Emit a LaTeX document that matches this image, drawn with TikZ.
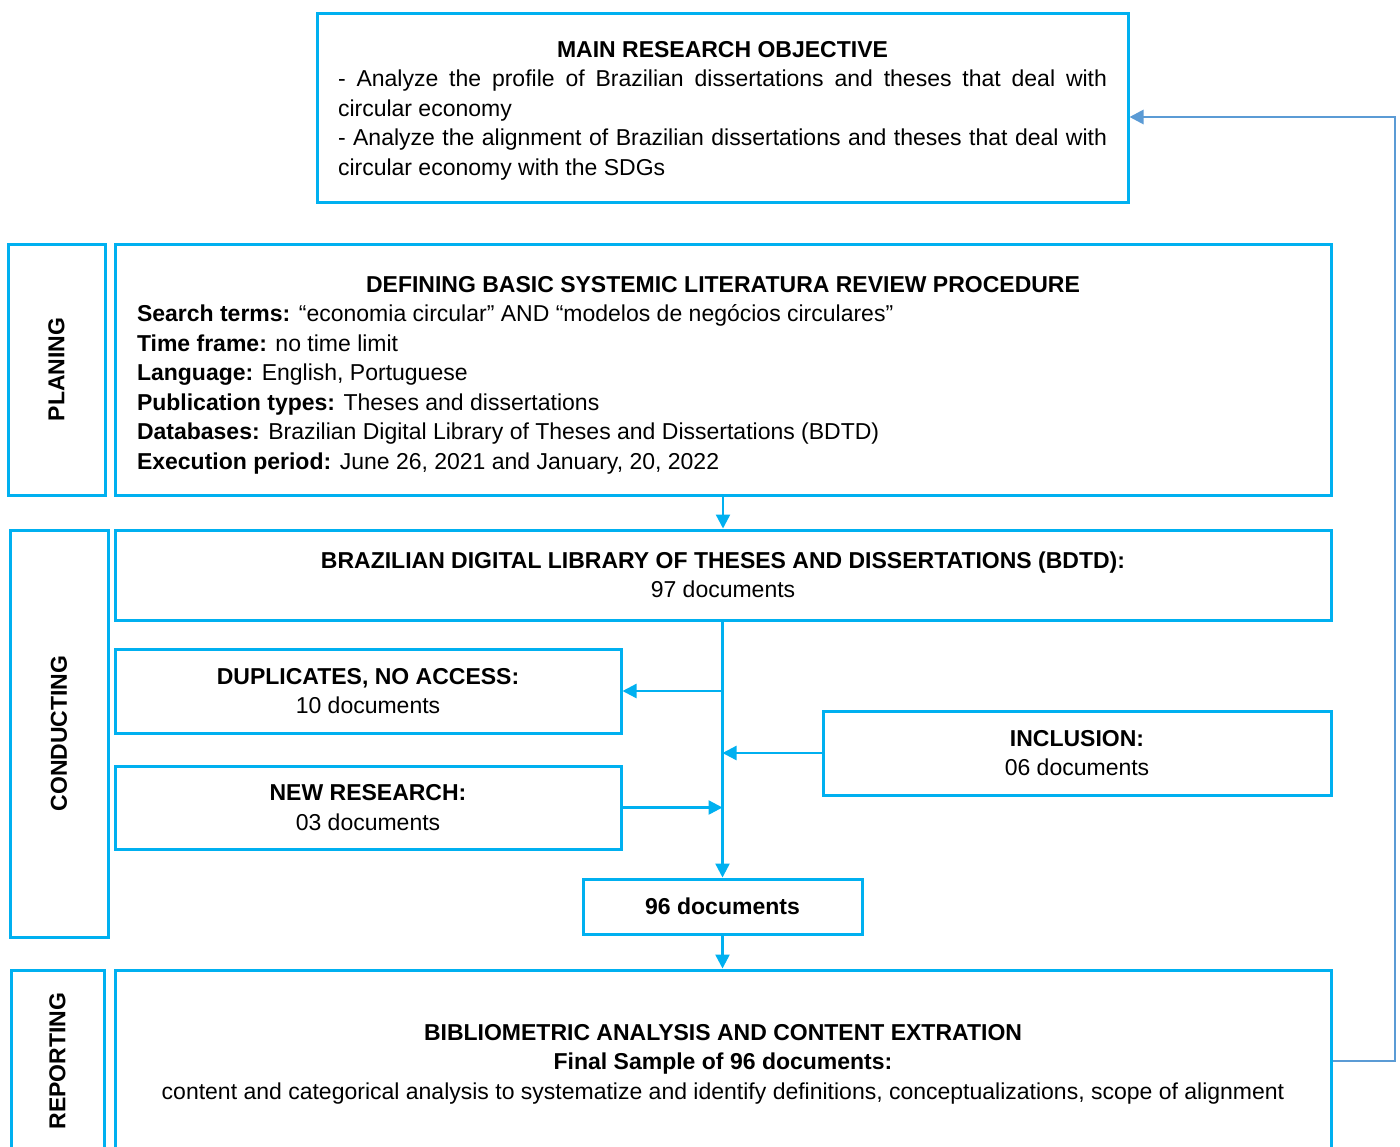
\documentclass[tikz,border=0pt]{standalone}
\usepackage{fontspec}
\setmainfont{Liberation Sans}
\usetikzlibrary{arrows.meta}
\definecolor{boxblue}{HTML}{00B0F0}
\definecolor{fbblue}{HTML}{5B9BD5}
\begin{document}
\begin{tikzpicture}[x=0.5pt,y=-0.5pt,
  box/.style={draw=boxblue,line width=1.5pt,rectangle,inner sep=0pt,align=center,
    font=\fontsize{11.5}{14.75}\selectfont},
  txt/.style={inner sep=0pt,align=center,font=\fontsize{11.5}{14.75}\selectfont},
  side/.style={font=\fontsize{11.5}{14.75}\selectfont\bfseries,rotate=90,inner sep=0pt},
  conn/.style={draw=boxblue,line width=1.2pt,-{Triangle[length=7pt,width=7pt]},color=boxblue},
  fb/.style={draw=fbblue,line width=1.4pt,-{Triangle[length=7pt,width=7pt]},color=fbblue}]
\useasboundingbox (0,0) rectangle (1400,1146);
\fill[white] (0,0) rectangle (1400,1146);

% top objective box
\node[box,minimum width=405.5pt,minimum height=94.5pt] (top) at (722.5,107.5) {};
\node[txt] (toptxt) at (722.5,110.5) {%
  \textbf{MAIN RESEARCH OBJECTIVE}\\
  \makebox[384.5pt][s]{- Analyze the profile of Brazilian dissertations and theses that deal with}\\
  \makebox[384.5pt][l]{circular economy}\\
  \makebox[384.5pt][s]{- Analyze the alignment of Brazilian dissertations and theses that deal with}\\
  \makebox[384.5pt][l]{circular economy with the SDGs}};

% planning
\node[box,minimum width=48.5pt,minimum height=125.5pt] (plan) at (56.5,369.5) {};
\node[side] (planlbl) at (plan) {PLANING};
\node[box,minimum width=608pt,minimum height=125.5pt] (def) at (723,369.5) {};
\node[txt] (deftxt) at (723,375) {%
  \textbf{DEFINING BASIC SYSTEMIC LITERATURA REVIEW PROCEDURE}\\
  \makebox[586pt][l]{\textbf{Search terms:} “economia circular” AND “modelos de negócios circulares”}\\
  \makebox[586pt][l]{\textbf{Time frame:} no time limit}\\
  \makebox[586pt][l]{\textbf{Language:} English, Portuguese}\\
  \makebox[586pt][l]{\textbf{Publication types:} Theses and dissertations}\\
  \makebox[586pt][l]{\textbf{Databases:} Brazilian Digital Library of Theses and Dissertations (BDTD)}\\
  \makebox[586pt][l]{\textbf{Execution period:} June 26, 2021 and January, 20, 2022}};

% conducting
\node[box,minimum width=49pt,minimum height=203.5pt] (cond) at (59,733.5) {};
\node[side] (condlbl) at (cond) {CONDUCTING};
\node[box,minimum width=608pt,minimum height=45pt] (bdtd) at (723,575) {%
  \textbf{BRAZILIAN DIGITAL LIBRARY OF THESES AND DISSERTATIONS (BDTD):}\\97 documents};
\node[box,minimum width=253pt,minimum height=42pt] (dup) at (368,691) {%
  \textbf{DUPLICATES, NO ACCESS:}\\10 documents};
\node[box,minimum width=254pt,minimum height=42pt] (inc) at (1077,753) {%
  \textbf{INCLUSION:}\\06 documents};
\node[box,minimum width=253pt,minimum height=41.5pt] (new) at (368,807.5) {%
  \textbf{NEW RESEARCH:}\\03 documents};
\node[box,minimum width=139.5pt,minimum height=27.5pt] (n96) at (722.5,906.5) {%
  \textbf{96 documents}};

% reporting
\node[box,minimum width=46.5pt,minimum height=91pt] (rep) at (57.5,1061) {};
\node[side] (replbl) at (rep) {REPORTING};
\node[box,minimum width=608pt,minimum height=91pt] (bib) at (723,1061) {};
\node[txt] (bibtxt) at (723,1064) {%
  \textbf{BIBLIOMETRIC ANALYSIS AND CONTENT EXTRATION}\\
  \textbf{Final Sample of 96 documents:}\\
  content and categorical analysis to systematize and identify definitions, conceptualizations, scope of alignment};

% connectors
\draw[conn] (def.south -| bdtd.north) -- (bdtd.north);
\draw[conn] (bdtd.south -| n96.north) -- (n96.north);
\draw[conn] (n96.north |- dup.east) -- (dup.east);
\draw[conn] (inc.west) -- (n96.north |- inc.west);
\draw[conn] (new.east) -- (n96.north |- new.east);
\draw[conn] (n96.south) -- (n96.south |- bib.north);
\coordinate (fbx) at (1395,0);
\draw[fb] (bib.east) -- (bib.east -| fbx) |- ([yshift=-4.75pt]top.east);
\end{tikzpicture}
\end{document}
